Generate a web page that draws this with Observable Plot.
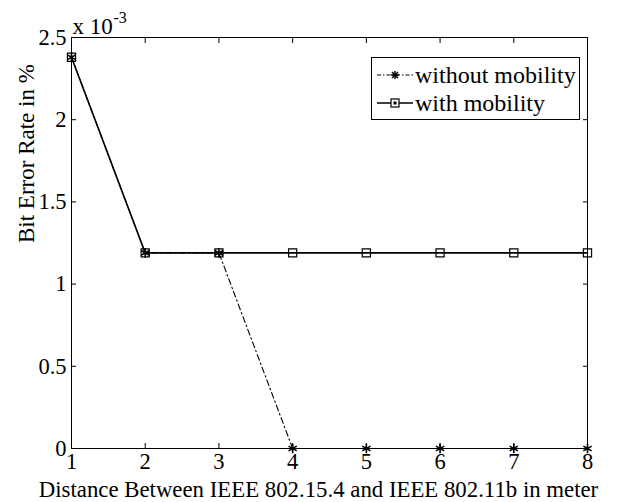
<!DOCTYPE html>
<html>
<head>
<meta charset="utf-8">
<script src="https://cdn.jsdelivr.net/npm/d3@7"></script>
<script src="https://cdn.jsdelivr.net/npm/@observablehq/plot@0.6"></script>
<style>
  html, body { margin: 0; padding: 0; background: #fff; }
  #wrap { position: relative; width: 632px; height: 502px; }
  #legend { position: absolute; left: 371px; top: 57px; width: 207px; height: 61px;
    border: 1px solid #000; background: #fff; font-family: "Liberation Serif", serif; font-size: 24px; color: #000; }
  .row { position: absolute; left: 0; height: 28px; display: flex; align-items: center; }
  .row svg { margin-left: 5px; }
  .row span { margin-left: 2px; white-space: nowrap; }
</style>
</head>
<body>
<div id="wrap"></div>
<script>
const distance = [1, 2, 3, 4, 5, 6, 7, 8];
const withoutMobility = [0.00238, 0.00119, 0.00119, 0, 0, 0, 0, 0];
const withMobility = [0.00238, 0.00119, 0.00119, 0.00119, 0.00119, 0.00119, 0.00119, 0.00119];
const xTicks = [1, 2, 3, 4, 5, 6, 7, 8];
const yTicks = [0, 0.0005, 0.001, 0.0015, 0.002, 0.0025];
const seriesNames = ["without mobility", "with mobility"];
const xLabel = "Distance Between IEEE 802.15.4 and IEEE 802.11b in meter";
const yLabel = "Bit Error Rate in %";

const rowsWithout = distance.map((d, i) => ({x: d, y: withoutMobility[i]}));
const rowsWith = distance.map((d, i) => ({x: d, y: withMobility[i]}));
const fmtY = d => String(Math.round(d * 10000) / 10);
const font = "Liberation Serif";

const chart = Plot.plot({
  width: 632,
  height: 502,
  marginLeft: 71,
  marginRight: 45,
  marginTop: 37,
  marginBottom: 54,
  style: {fontFamily: font, fontSize: "22.5px", color: "#000", background: "#fff"},
  x: {domain: [1, 8]},
  y: {domain: [0, 0.0025]},
  marks: [
    Plot.frame({stroke: "#000", strokeWidth: 1}),
    Plot.axisX({ticks: xTicks, tickFormat: d => String(d), tickSize: -5, tickPadding: 10, label: null, anchor: "bottom"}),
    Plot.axisX({ticks: xTicks, tickFormat: () => "", tickSize: -5, label: null, anchor: "top"}),
    Plot.axisY({ticks: yTicks, tickFormat: fmtY, tickSize: -5, tickPadding: 10, label: null, anchor: "left"}),
    Plot.axisY({ticks: yTicks, tickFormat: () => "", tickSize: -5, label: null, anchor: "right"}),
    Plot.line(rowsWithout, {x: "x", y: "y", stroke: "#000", strokeWidth: 1.1, strokeDasharray: "6,3,1.5,3"}),
    Plot.dot(rowsWithout, {x: "x", y: "y", symbol: "asterisk", r: 4.5, stroke: "#000", strokeWidth: 1.6}),
    Plot.line(rowsWith, {x: "x", y: "y", stroke: "#000", strokeWidth: 1.6}),
    Plot.dot(rowsWith, {x: "x", y: "y", symbol: "square", r: 4.6, stroke: "#000", strokeWidth: 1.2, fill: "none"}),
    Plot.text([xLabel], {frameAnchor: "bottom", dx: -11, dy: 41, lineAnchor: "middle", fontSize: 22.8, fill: "#000"}),
    Plot.text([yLabel], {frameAnchor: "left", rotate: -90, dx: -45, lineAnchor: "middle", fontSize: 23, fill: "#000"}),
    Plot.text(["x 10"], {frameAnchor: "top-left", textAnchor: "start", lineAnchor: "bottom", dx: 1, dy: -4, fontSize: 23, fill: "#000"}),
    Plot.text(["-3"], {frameAnchor: "top-left", textAnchor: "start", lineAnchor: "bottom", dx: 42, dy: -15, fontSize: 16, fill: "#000"})
  ]
});
document.getElementById("wrap").appendChild(chart);

const legend = document.createElement("div");
legend.id = "legend";
const samples = [
  `<svg width="36" height="12"><line x1="0" y1="6" x2="36" y2="6" stroke="#000" stroke-width="1.1" stroke-dasharray="4,2,1.5,2"/>
     <g transform="translate(18,6)" stroke="#000" stroke-width="1.5"><line x1="-4" y1="0" x2="4" y2="0"/><line x1="0" y1="-4" x2="0" y2="4"/><line x1="-3" y1="-3" x2="3" y2="3"/><line x1="-3" y1="3" x2="3" y2="-3"/></g></svg>`,
  `<svg width="36" height="12"><line x1="0" y1="6" x2="36" y2="6" stroke="#000" stroke-width="1.6"/>
     <rect x="14" y="2" width="8" height="8" fill="#fff" stroke="#000" stroke-width="1.2"/><rect x="16.5" y="4.5" width="3" height="3" fill="#000"/></svg>`
];
seriesNames.forEach((name, i) => {
  const row = document.createElement("div");
  row.className = "row";
  row.style.top = (i === 0 ? 3 : 31) + "px";
  row.innerHTML = samples[i] + `<span>${name}</span>`;
  legend.appendChild(row);
});
document.getElementById("wrap").appendChild(legend);
</script>
</body>
</html>
